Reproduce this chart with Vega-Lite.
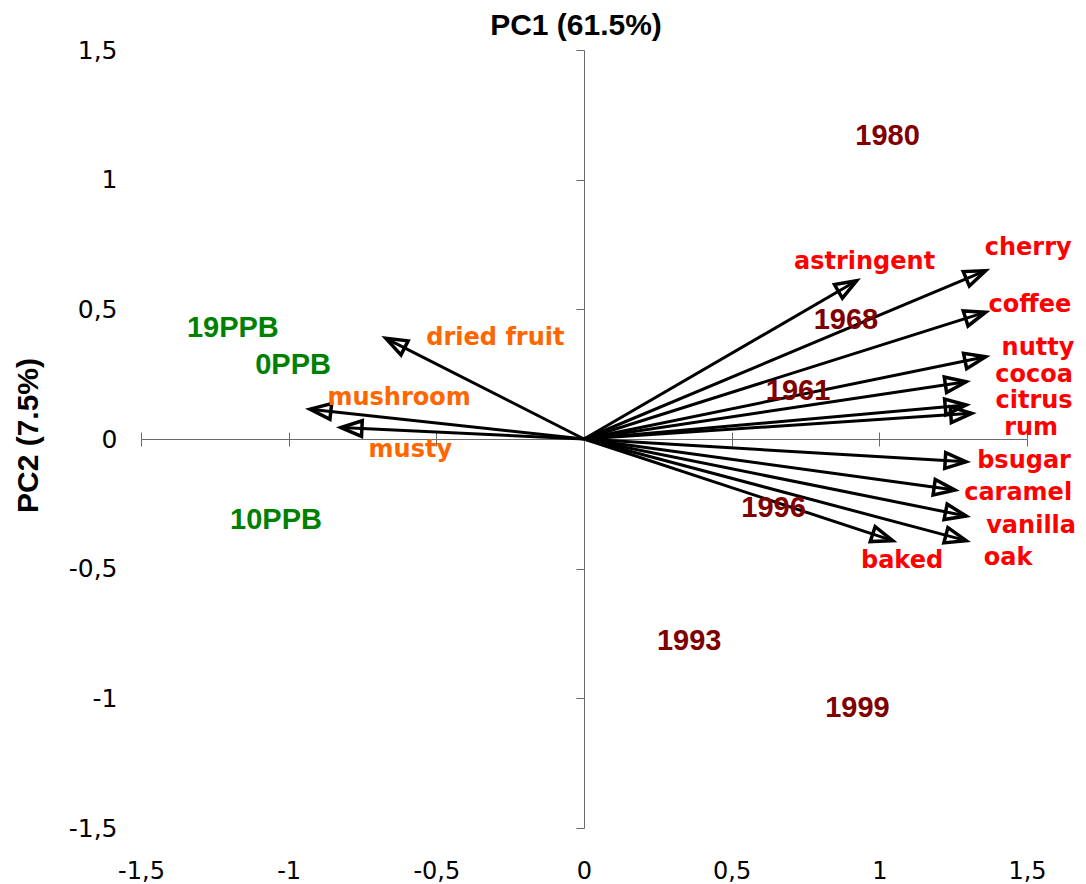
{
  "$schema": "https://vega.github.io/schema/vega-lite/v6.json",
  "width": 886,
  "height": 778,
  "autosize": {"type": "none"},
  "padding": {"left": 141, "top": 50, "right": 59, "bottom": 56},
  "background": "white",
  "config": {"view": {"stroke": null}, "axis": {"grid": false}},
  "title": {"text": "PC1 (61.5%)", "font": "Liberation Sans", "fontSize": 30, "fontWeight": "bold", "color": "black", "anchor": "middle", "frame": "group", "dx": -8, "offset": -3},
  "datasets": {
    "vars": [
      {"name": "astringent", "group": "attr", "x": 0.923, "y": 0.610, "lx": 0.950, "ly": 0.684},
      {"name": "cherry", "group": "attr", "x": 1.360, "y": 0.649, "lx": 1.504, "ly": 0.736},
      {"name": "coffee", "group": "attr", "x": 1.360, "y": 0.489, "lx": 1.510, "ly": 0.518},
      {"name": "nutty", "group": "attr", "x": 1.360, "y": 0.317, "lx": 1.537, "ly": 0.350},
      {"name": "cocoa", "group": "attr", "x": 1.294, "y": 0.221, "lx": 1.524, "ly": 0.248},
      {"name": "citrus", "group": "attr", "x": 1.294, "y": 0.131, "lx": 1.524, "ly": 0.146},
      {"name": "rum", "group": "attr", "x": 1.313, "y": 0.099, "lx": 1.514, "ly": 0.044},
      {"name": "bsugar", "group": "attr", "x": 1.294, "y": -0.088, "lx": 1.490, "ly": -0.083},
      {"name": "caramel", "group": "attr", "x": 1.256, "y": -0.197, "lx": 1.470, "ly": -0.209},
      {"name": "vanilla", "group": "attr", "x": 1.294, "y": -0.297, "lx": 1.514, "ly": -0.334},
      {"name": "oak", "group": "attr", "x": 1.294, "y": -0.392, "lx": 1.436, "ly": -0.457},
      {"name": "baked", "group": "attr", "x": 1.045, "y": -0.392, "lx": 1.077, "ly": -0.469},
      {"name": "dried fruit", "group": "off", "x": -0.671, "y": 0.388, "lx": -0.300, "ly": 0.391},
      {"name": "mushroom", "group": "off", "x": -0.928, "y": 0.115, "lx": -0.626, "ly": 0.160},
      {"name": "musty", "group": "off", "x": -0.823, "y": 0.044, "lx": -0.588, "ly": -0.041}
    ],
    "samples": [
      {"name": "1980", "group": "year", "x": 1.028, "y": 1.169},
      {"name": "1968", "group": "year", "x": 0.887, "y": 0.459},
      {"name": "1961", "group": "year", "x": 0.725, "y": 0.186},
      {"name": "1996", "group": "year", "x": 0.642, "y": -0.266},
      {"name": "1993", "group": "year", "x": 0.356, "y": -0.778},
      {"name": "1999", "group": "year", "x": 0.926, "y": -1.037},
      {"name": "19PPB", "group": "ppb", "x": -1.189, "y": 0.428},
      {"name": "0PPB", "group": "ppb", "x": -0.985, "y": 0.285},
      {"name": "10PPB", "group": "ppb", "x": -1.043, "y": -0.312}
    ]
  },
  "resolve": {"axis": {"x": "independent", "y": "independent"}},
  "layer": [
    {
      "data": {"name": "vars"},
      "mark": {"type": "rule", "color": "black", "strokeWidth": 3},
      "encoding": {
        "x": {"field": "x", "type": "quantitative",
          "scale": {"domain": [-1.5, 1.5], "nice": false, "zero": false},
          "axis": {"orient": "bottom", "values": [-1.5, -1, -0.5, 0, 0.5, 1, 1.5], "domain": false, "ticks": false, "tickSize": 0, "labelPadding": 31, "labelFont": "DejaVu Sans", "labelFontSize": 24, "labelColor": "black", "labelExpr": "replace(toString(datum.value), '.', ',')", "labelFlush": false, "labelOverlap": false, "title": null}},
        "x2": {"datum": 0},
        "y": {"field": "y", "type": "quantitative",
          "scale": {"domain": [-1.5, 1.5], "nice": false, "zero": false},
          "axis": {"orient": "left", "values": [-1.5, -1, -0.5, 0, 0.5, 1, 1.5], "domain": false, "ticks": false, "tickSize": 0, "labelPadding": 24, "labelFont": "DejaVu Sans", "labelFontSize": 25, "labelColor": "black", "labelExpr": "replace(toString(datum.value), '.', ',')", "labelFlush": false, "labelOverlap": false,
            "title": "PC2 (7.5%)", "titleFont": "Liberation Sans", "titleFontSize": 30, "titleFontWeight": "bold", "titleColor": "black", "titleAngle": -90, "titleX": -104, "titleY": 385, "titleAlign": "center", "titleBaseline": "alphabetic"}},
        "y2": {"datum": 0}
      }
    },
    {
      "data": {"name": "vars"},
      "transform": [{"calculate": "atan2(-datum.y * 0.878, datum.x) * 180 / PI", "as": "angle"}],
      "mark": {"type": "point", "shape": "M0,0L-2,-0.75L-2,0.75Z", "size": 440, "filled": false, "stroke": "black", "strokeWidth": 3.5, "opacity": 1},
      "encoding": {
        "x": {"field": "x", "type": "quantitative",
          "scale": {"domain": [-1.5, 1.5], "nice": false, "zero": false},
          "axis": {"orient": "bottom", "offset": -389, "values": [-1.5, -1, -0.5, 0, 0.5, 1, 1.5], "labels": false, "domain": true, "domainColor": "#6a6a6a", "domainWidth": 1, "ticks": true, "tickSize": 7, "tickColor": "#6a6a6a", "tickWidth": 1, "title": null}},
        "y": {"field": "y", "type": "quantitative",
          "scale": {"domain": [-1.5, 1.5], "nice": false, "zero": false},
          "axis": {"orient": "left", "offset": -443, "values": [-1.5, -1, -0.5, 0, 0.5, 1, 1.5], "labels": false, "domain": true, "domainColor": "#6a6a6a", "domainWidth": 1, "ticks": true, "tickSize": 8, "tickColor": "#6a6a6a", "tickWidth": 1, "title": null}},
        "angle": {"field": "angle", "type": "quantitative", "scale": null}
      }
    },
    {
      "data": {"name": "vars"},
      "mark": {"type": "text", "font": "DejaVu Sans", "fontWeight": "bold", "fontSize": 24, "align": "center", "baseline": "middle"},
      "encoding": {
        "x": {"field": "lx", "type": "quantitative",
          "scale": {"domain": [-1.5, 1.5], "nice": false, "zero": false},
          "axis": {"orient": "top", "offset": -389, "values": [-1.5, -1, -0.5, 0, 0.5, 1, 1.5], "labels": false, "domain": false, "ticks": true, "tickSize": 7, "tickColor": "#6a6a6a", "tickWidth": 1, "title": null}},
        "y": {"field": "ly", "type": "quantitative",
          "scale": {"domain": [-1.5, 1.5], "nice": false, "zero": false}, "axis": null},
        "text": {"field": "name"},
        "color": {"field": "group", "type": "nominal",
          "scale": {"domain": ["attr", "off", "year", "ppb"], "range": ["#FF0000", "#FF6600", "#800000", "#008000"]}, "legend": null}
      }
    },
    {
      "data": {"name": "samples"},
      "mark": {"type": "text", "font": "Liberation Sans", "fontWeight": "bold", "fontSize": 29, "align": "center", "baseline": "middle"},
      "encoding": {
        "x": {"field": "x", "type": "quantitative",
          "scale": {"domain": [-1.5, 1.5], "nice": false, "zero": false}, "axis": null},
        "y": {"field": "y", "type": "quantitative",
          "scale": {"domain": [-1.5, 1.5], "nice": false, "zero": false}, "axis": null},
        "text": {"field": "name"},
        "color": {"field": "group", "type": "nominal",
          "scale": {"domain": ["attr", "off", "year", "ppb"], "range": ["#FF0000", "#FF6600", "#800000", "#008000"]}, "legend": null}
      }
    }
  ]
}
